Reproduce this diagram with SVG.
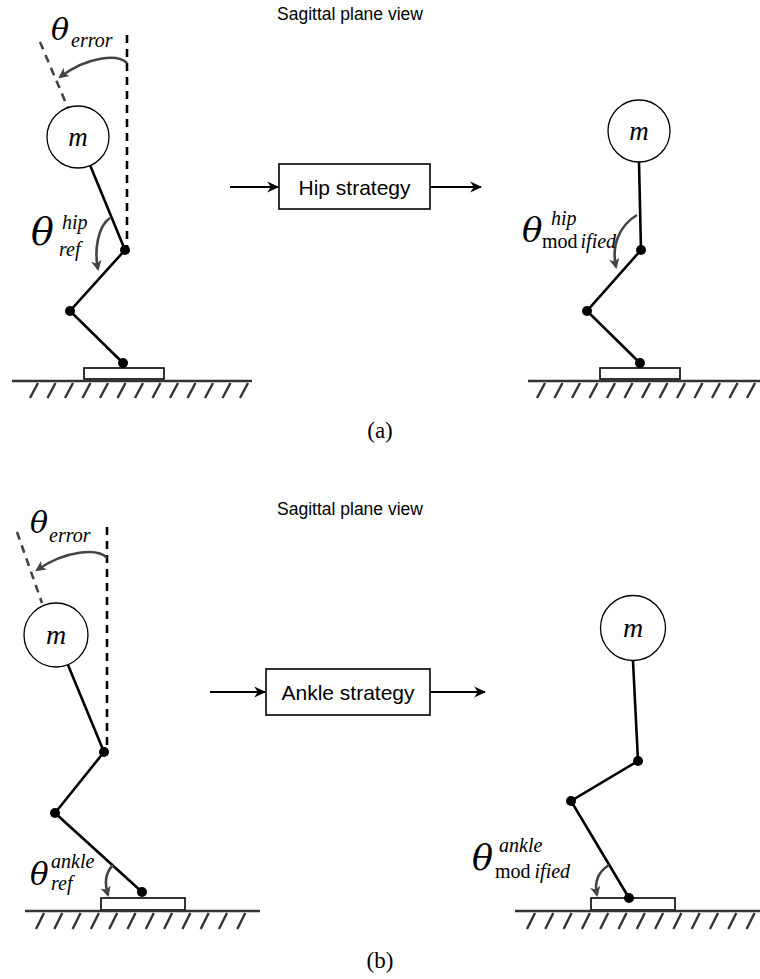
<svg xmlns="http://www.w3.org/2000/svg" width="760" height="979" viewBox="0 0 760 979">
  <defs>
    <style>
      .limb { stroke: #000; stroke-width: 2.6; fill: none; stroke-linecap: round; }
      .joint { fill: #000; }
      .mass { fill: #fff; stroke: #000; stroke-width: 1.3; }
      .foot { fill: #fff; stroke: #000; stroke-width: 1.6; }
      .ground { stroke: #333; stroke-width: 2.6; fill: none; }
      .hatch { stroke: #333; stroke-width: 2.4; fill: none; }
      .vdash { stroke: #000; stroke-width: 2.6; stroke-dasharray: 8 6; fill: none; }
      .tdash { stroke: #444; stroke-width: 2.6; stroke-dasharray: 8 6; fill: none; }
      .angle { stroke: #444; stroke-width: 2.6; fill: none; marker-end: url(#ahead); }
      .flow { stroke: #000; stroke-width: 2; fill: none; marker-end: url(#fhead); }
      .box { fill: #fff; stroke: #000; stroke-width: 1.6; }
      .sans { font-family: "Liberation Sans", Arial, sans-serif; fill: #000; }
      .math { font-family: "Liberation Serif", "Times New Roman", serif; font-style: italic; fill: #000; }
      .theta { font-family: "DejaVu Serif", "Liberation Serif", serif; font-style: italic; fill: #000; }
      .rm { font-family: "Liberation Serif", "Times New Roman", serif; font-style: normal; fill: #000; }
    </style>
    <marker id="ahead" viewBox="0 0 10 10" refX="8" refY="5" markerWidth="4" markerHeight="4" orient="auto" markerUnits="strokeWidth">
      <path d="M0,0 L10,5 L0,10 L2.5,5 Z" fill="#444"/>
    </marker>
    <marker id="fhead" viewBox="0 0 10 10" refX="9" refY="5" markerWidth="6" markerHeight="6" orient="auto" markerUnits="strokeWidth">
      <path d="M0,0.5 L10,5 L0,9.5 L3,5 Z" fill="#000"/>
    </marker>
  </defs>

  <!-- ===== (a) hip strategy ===== -->
  <text class="sans" x="350" y="20" font-size="17.5" text-anchor="middle">Sagittal plane view</text>

  <g id="a-left-figure">
    <line class="vdash" x1="127" y1="35" x2="127" y2="248"/>
    <line class="tdash" x1="40" y1="42" x2="68" y2="108"/>
    <line class="limb" x1="90" y1="165" x2="125" y2="250"/>
    <circle class="mass" cx="78" cy="137" r="31"/>
    <text class="math" x="78" y="146" font-size="27" text-anchor="middle">m</text>
    <polyline class="limb" points="125,250 70,311 123,363"/>
    <rect class="foot" x="84" y="368" width="80" height="11"/>
    <circle class="joint" cx="125" cy="250" r="5"/>
    <circle class="joint" cx="70" cy="311" r="5"/>
    <circle class="joint" cx="123" cy="363" r="5"/>
    <line class="ground" x1="12" y1="381" x2="252" y2="381"/>
    <path class="hatch" d="M38,383 l-8,15 M55.5,383 l-8,15 M73,383 l-8,15 M90.5,383 l-8,15 M108,383 l-8,15 M125.5,383 l-8,15 M143,383 l-8,15 M160.5,383 l-8,15 M178,383 l-8,15 M195.5,383 l-8,15 M213,383 l-8,15 M230.5,383 l-8,15 M248,383 l-8,15"/>
  </g>
  <g id="a-left-labels">
    <path class="angle" d="M127,63 C118,54 88,56 60,77"/>
    <text class="theta" x="51" y="40" font-size="30">θ</text>
    <text class="math" x="71" y="47" font-size="20">error</text>
    <path class="angle" d="M110,218 C98,226 94,250 98,269"/>
    <text class="theta" x="31" y="245" font-size="38">θ</text>
    <text class="math" x="62" y="229" font-size="20">hip</text>
    <text class="math" x="59" y="256" font-size="20">ref</text>
  </g>

  <g id="hip-strategy">
    <rect class="box" x="279" y="164" width="151" height="45"/>
    <text class="sans" x="354.5" y="194.5" font-size="21" text-anchor="middle">Hip strategy</text>
  </g>

  <g id="a-right-figure">
    <line class="limb" x1="639" y1="162" x2="641" y2="250"/>
    <circle class="mass" cx="639" cy="131" r="31"/>
    <text class="math" x="639" y="140" font-size="27" text-anchor="middle">m</text>
    <polyline class="limb" points="641,250 587,311 640,363"/>
    <rect class="foot" x="600" y="368" width="80" height="11"/>
    <circle class="joint" cx="641" cy="250" r="5"/>
    <circle class="joint" cx="587" cy="311" r="5"/>
    <circle class="joint" cx="640" cy="363" r="5"/>
    <line class="ground" x1="528" y1="381" x2="760" y2="381"/>
    <path class="hatch" d="M545,383 l-8,15 M562.5,383 l-8,15 M580,383 l-8,15 M597.5,383 l-8,15 M615,383 l-8,15 M632.5,383 l-8,15 M650,383 l-8,15 M667.5,383 l-8,15 M685,383 l-8,15 M702.5,383 l-8,15 M720,383 l-8,15 M737.5,383 l-8,15 M755,383 l-8,15"/>
  </g>
  <g id="a-right-labels">
    <path class="angle" d="M637,215 C620,225 611,245 616,267"/>
    <text class="theta" x="522" y="242" font-size="34">θ</text>
    <text class="math" x="551" y="225" font-size="20">hip</text>
    <text x="542" y="248" font-size="20"><tspan class="rm">mod</tspan><tspan class="math" dx="3">ified</tspan></text>
  </g>

  <text class="rm" x="380" y="438" font-size="23" text-anchor="middle">(a)</text>

  <!-- ===== (b) ankle strategy ===== -->
  <text class="sans" x="350" y="515" font-size="17.5" text-anchor="middle">Sagittal plane view</text>

  <g id="b-left-figure">
    <line class="vdash" x1="107" y1="527" x2="107" y2="750"/>
    <line class="tdash" x1="17" y1="532" x2="42" y2="603"/>
    <line class="limb" x1="68" y1="665" x2="104" y2="752"/>
    <circle class="mass" cx="56" cy="635" r="32"/>
    <text class="math" x="56" y="644" font-size="28" text-anchor="middle">m</text>
    <polyline class="limb" points="104,752 55,813 142,892"/>
    <rect class="foot" x="101" y="898" width="84" height="12"/>
    <circle class="joint" cx="104" cy="752" r="5"/>
    <circle class="joint" cx="55" cy="813" r="5"/>
    <circle class="joint" cx="142" cy="892" r="5"/>
    <line class="ground" x1="25" y1="911" x2="260" y2="911"/>
    <path class="hatch" d="M44,913 l-8,16 M62.3,913 l-8,16 M80.6,913 l-8,16 M98.9,913 l-8,16 M117.2,913 l-8,16 M135.5,913 l-8,16 M153.8,913 l-8,16 M172.1,913 l-8,16 M190.4,913 l-8,16 M208.7,913 l-8,16 M227,913 l-8,16 M245.3,913 l-8,16"/>
  </g>
  <g id="b-left-labels">
    <path class="angle" d="M107,558 C98,548 66,550 37,570"/>
    <text class="theta" x="30" y="533" font-size="30">θ</text>
    <text class="math" x="49" y="542" font-size="20">error</text>
    <path class="angle" d="M113,865 C106,872 104,882 108,895"/>
    <text class="theta" x="30" y="885" font-size="31">θ</text>
    <text class="math" x="51" y="868" font-size="20">ankle</text>
    <text class="math" x="51" y="890" font-size="20">ref</text>
  </g>

  <g id="ankle-strategy">
    <rect class="box" x="266" y="669" width="164" height="46"/>
    <text class="sans" x="348" y="699.5" font-size="21" text-anchor="middle">Ankle strategy</text>
  </g>

  <g id="b-right-figure">
    <line class="limb" x1="633" y1="661" x2="638" y2="761"/>
    <circle class="mass" cx="633" cy="628" r="32.5"/>
    <text class="math" x="633" y="637" font-size="28" text-anchor="middle">m</text>
    <polyline class="limb" points="638,761 571,801 629,898"/>
    <rect class="foot" x="591" y="898" width="84" height="12"/>
    <circle class="joint" cx="638" cy="761" r="5"/>
    <circle class="joint" cx="571" cy="801" r="5"/>
    <circle class="joint" cx="629" cy="898" r="5"/>
    <line class="ground" x1="515" y1="911" x2="760" y2="911"/>
    <path class="hatch" d="M535,913 l-8,16 M553.3,913 l-8,16 M571.6,913 l-8,16 M589.9,913 l-8,16 M608.2,913 l-8,16 M626.5,913 l-8,16 M644.8,913 l-8,16 M663.1,913 l-8,16 M681.4,913 l-8,16 M699.7,913 l-8,16 M718,913 l-8,16 M736.3,913 l-8,16 M754.6,913 l-8,16"/>
  </g>
  <g id="b-right-labels">
    <path class="angle" d="M609,865 C598,872 594,882 597,895"/>
    <text class="theta" x="472" y="870" font-size="35">θ</text>
    <text class="math" x="499" y="852" font-size="20">ankle</text>
    <text x="495" y="878" font-size="20"><tspan class="rm">mod</tspan><tspan class="math" dx="4">ified</tspan></text>
  </g>

  <text class="rm" x="380" y="968" font-size="23" text-anchor="middle">(b)</text>

  <!-- flow arrows into and out of the strategy blocks -->
  <g id="connectors">
    <line class="flow" x1="230" y1="187" x2="278" y2="187"/>
    <line class="flow" x1="430" y1="187" x2="481" y2="187"/>
    <line class="flow" x1="210" y1="692" x2="265" y2="692"/>
    <line class="flow" x1="430" y1="692" x2="485" y2="692"/>
  </g>
</svg>
